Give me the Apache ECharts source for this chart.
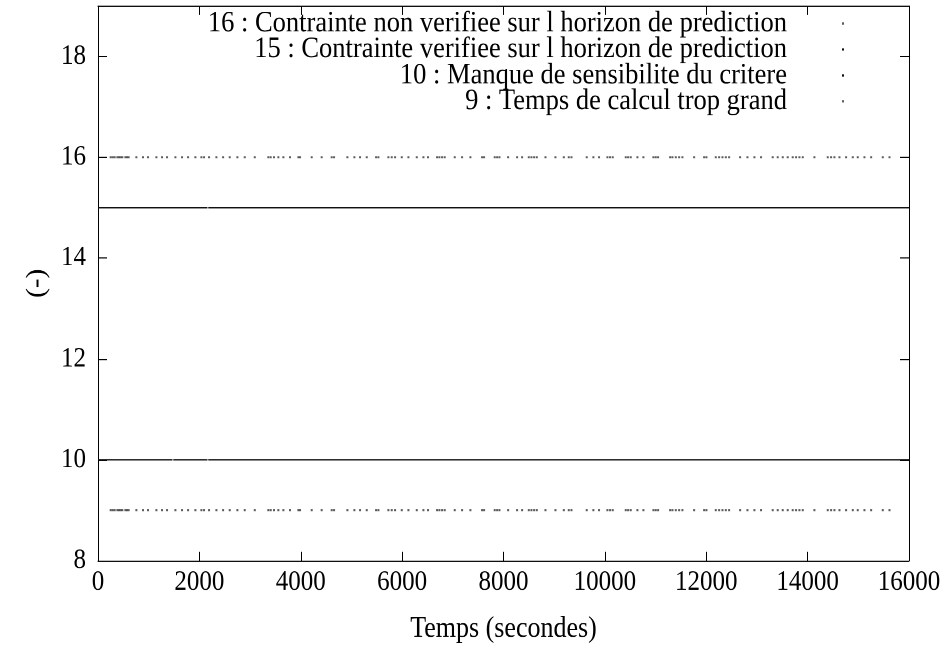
<!DOCTYPE html>
<html>
<head>
<meta charset="utf-8">
<script src="https://cdn.jsdelivr.net/npm/echarts@6/dist/echarts.min.js"></script>
<style>
  html, body { margin: 0; padding: 0; overflow: hidden; background: #fff; }
  #wrap { width: 944px; height: 649px; overflow: hidden; }
  /* the chart is drawn on a slightly shorter canvas and stretched vertically,
     giving the tall lettering of the PostScript output */
  #chart { width: 944px; height: 580px; transform: scale(1, 1.119); transform-origin: 0 0; }
</style>
</head>
<body>
<div id="wrap"><div id="chart"></div></div>
<script>
// Status codes of the predictive controller over time (seconds)
const codeNames = [
  '16 : Contrainte non verifiee sur l horizon de prediction',
  '15 : Contrainte verifiee sur l horizon de prediction',
  '10 : Manque de sensibilite du critere',
  '9 : Temps de calcul trop grand'
];
const codeValues = [16, 15, 10, 9];

// Instants where code 16 is reported
const times16 = [250, 290, 329, 382, 415, 447, 480, 540, 572, 605, 757, 888, 987, 1152, 1263, 1362,
  1527, 1658, 1777, 1921, 2040, 2092, 2191, 2336, 2468, 2599, 2750, 2895, 3093, 3360, 3407, 3472,
  3558, 3657, 3788, 3953, 3986, 4216, 4413, 4611, 4657, 4920, 5058, 5170, 5302, 5486, 5532, 5729,
  5795, 5861, 5993, 6124, 6289, 6420, 6511, 6689, 6735, 6788, 6840, 7038, 7183, 7347, 7577, 7617,
  7827, 7874, 7920, 8091, 8268, 8367, 8499, 8551, 8604, 8657, 8828, 9025, 9190, 9288, 9341, 9642,
  9773, 9885, 10050, 10102, 10155, 10412, 10458, 10510, 10642, 10760, 10958, 11004, 11050, 11287,
  11333, 11399, 11465, 11530, 11761, 11958, 12004, 12188, 12254, 12320, 12386, 12451, 12668, 12813,
  12950, 13081, 13311, 13410, 13509, 13607, 13706, 13772, 13838, 13904, 14134, 14397, 14463, 14529,
  14628, 14759, 14891, 14989, 15121, 15253, 15483, 15615];

// Instants where code 9 is reported
const times9 = [250, 290, 329, 382, 415, 447, 480, 540, 572, 605, 757, 888, 987, 1152, 1263, 1362,
  1527, 1658, 1777, 1921, 2040, 2092, 2191, 2336, 2468, 2599, 2750, 2895, 3093, 3360, 3407, 3472,
  3558, 3657, 3788, 3953, 3986, 4216, 4413, 4611, 4657, 4920, 5058, 5170, 5302, 5486, 5532, 5729,
  5795, 5861, 5993, 6124, 6289, 6420, 6511, 6689, 6735, 6788, 6840, 7038, 7183, 7347, 7577, 7617,
  7827, 7874, 7920, 8091, 8268, 8367, 8499, 8551, 8604, 8657, 8828, 9025, 9190, 9288, 9341, 9642,
  9773, 9885, 10050, 10102, 10155, 10412, 10458, 10510, 10642, 10760, 10958, 11004, 11050, 11287,
  11333, 11399, 11465, 11530, 11761, 11958, 12004, 12188, 12254, 12320, 12386, 12451, 12668, 12813,
  12950, 13081, 13311, 13410, 13509, 13607, 13706, 13772, 13838, 13904, 14134, 14397, 14463, 14529,
  14628, 14759, 14891, 14989, 15121, 15253, 15483, 15615];

// Codes 15 and 10 are reported almost every step: stored as [start, end] runs
const runs15 = [[0, 2160], [2175, 16000]];
const runs10 = [[0, 1470], [1485, 2160], [2175, 16000]];

// Axis ticks
const xTicks = { min: 0, max: 16000, step: 2000 };
const yTicks = { min: 8, max: 19, step: 2 };
const xLabel = 'Temps (secondes)';
const yLabel = '(-)';

const FONT = "'Liberation Serif', 'Times New Roman', serif";

function runsToLine(runs, y) {
  const out = [];
  runs.forEach((r, i) => {
    if (i) out.push([r[0], '-']);
    out.push([r[0], y], [r[1], y]);
  });
  return out;
}

const dotStyle = { color: '#333' };

const series = [
  { name: codeNames[0], type: 'scatter', symbol: 'rect', symbolSize: [2, 1.8],
    itemStyle: dotStyle, data: times16.map(t => [t, codeValues[0]]) },
  { name: codeNames[1], type: 'line', showSymbol: false, connectNulls: false,
    lineStyle: { color: '#111', width: 1.3 }, itemStyle: { color: '#111' },
    data: runsToLine(runs15, codeValues[1]) },
  { name: codeNames[2], type: 'line', showSymbol: false, connectNulls: false,
    lineStyle: { color: '#111', width: 1.3 }, itemStyle: { color: '#111' },
    data: runsToLine(runs10, codeValues[2]) },
  { name: codeNames[3], type: 'scatter', symbol: 'rect', symbolSize: [2, 1.8],
    itemStyle: dotStyle, data: times9.map(t => [t, codeValues[3]]) }
];

const axisLine = { show: true, onZero: false, lineStyle: { color: '#000', width: 1 } };
const plainNumber = v => String(v);

const option = {
  animation: false,
  backgroundColor: '#fff',
  grid: { left: 98, right: 35, top: 5.4, bottom: 72 },
  legend: codeNames.map((n, i) => ({
    data: [n],
    orient: 'vertical',
    align: 'right',
    right: 100,
    top: 7.5 + i * 23.2,
    padding: 0,
    icon: 'rect',
    itemWidth: 2,
    itemHeight: 2,
    selectedMode: false,
    textStyle: { fontFamily: FONT, fontSize: 26.5, lineHeight: 26, color: '#000', padding: [0, 50, 0, 0] }
  })),
  xAxis: [
    { type: 'value', position: 'bottom', min: xTicks.min, max: xTicks.max, interval: xTicks.step,
      axisLine, axisTick: { show: true, inside: true, length: 8, lineStyle: { color: '#000' } },
      splitLine: { show: false },
      axisLabel: { fontFamily: FONT, fontSize: 25, color: '#000', margin: 7, formatter: plainNumber },
      name: xLabel, nameLocation: 'middle', nameGap: 48,
      nameTextStyle: { fontFamily: FONT, fontSize: 26, color: '#000' } },
    { type: 'value', position: 'top', min: xTicks.min, max: xTicks.max, interval: xTicks.step,
      axisLine, axisTick: { show: true, inside: true, length: 8, lineStyle: { color: '#000' } },
      splitLine: { show: false }, axisLabel: { show: false } }
  ],
  yAxis: [
    { type: 'value', position: 'left', min: yTicks.min, max: yTicks.max, interval: yTicks.step,
      axisLine, axisTick: { show: true, inside: true, length: 9, lineStyle: { color: '#000' } },
      splitLine: { show: false },
      axisLabel: { fontFamily: FONT, fontSize: 25, color: '#000', margin: 12, showMaxLabel: false,
        formatter: plainNumber },
      name: yLabel, nameLocation: 'middle', nameGap: 46,
      nameTextStyle: { fontFamily: FONT, fontSize: 26, color: '#000' } },
    { type: 'value', position: 'right', min: yTicks.min, max: yTicks.max, interval: yTicks.step,
      axisLine, axisTick: { show: true, inside: true, length: 9, lineStyle: { color: '#000' } },
      splitLine: { show: false }, axisLabel: { show: false } }
  ],
  series
};

const chart = echarts.init(document.getElementById('chart'), null, { renderer: 'canvas', devicePixelRatio: 2 });
chart.setOption(option);
</script>
</body>
</html>
